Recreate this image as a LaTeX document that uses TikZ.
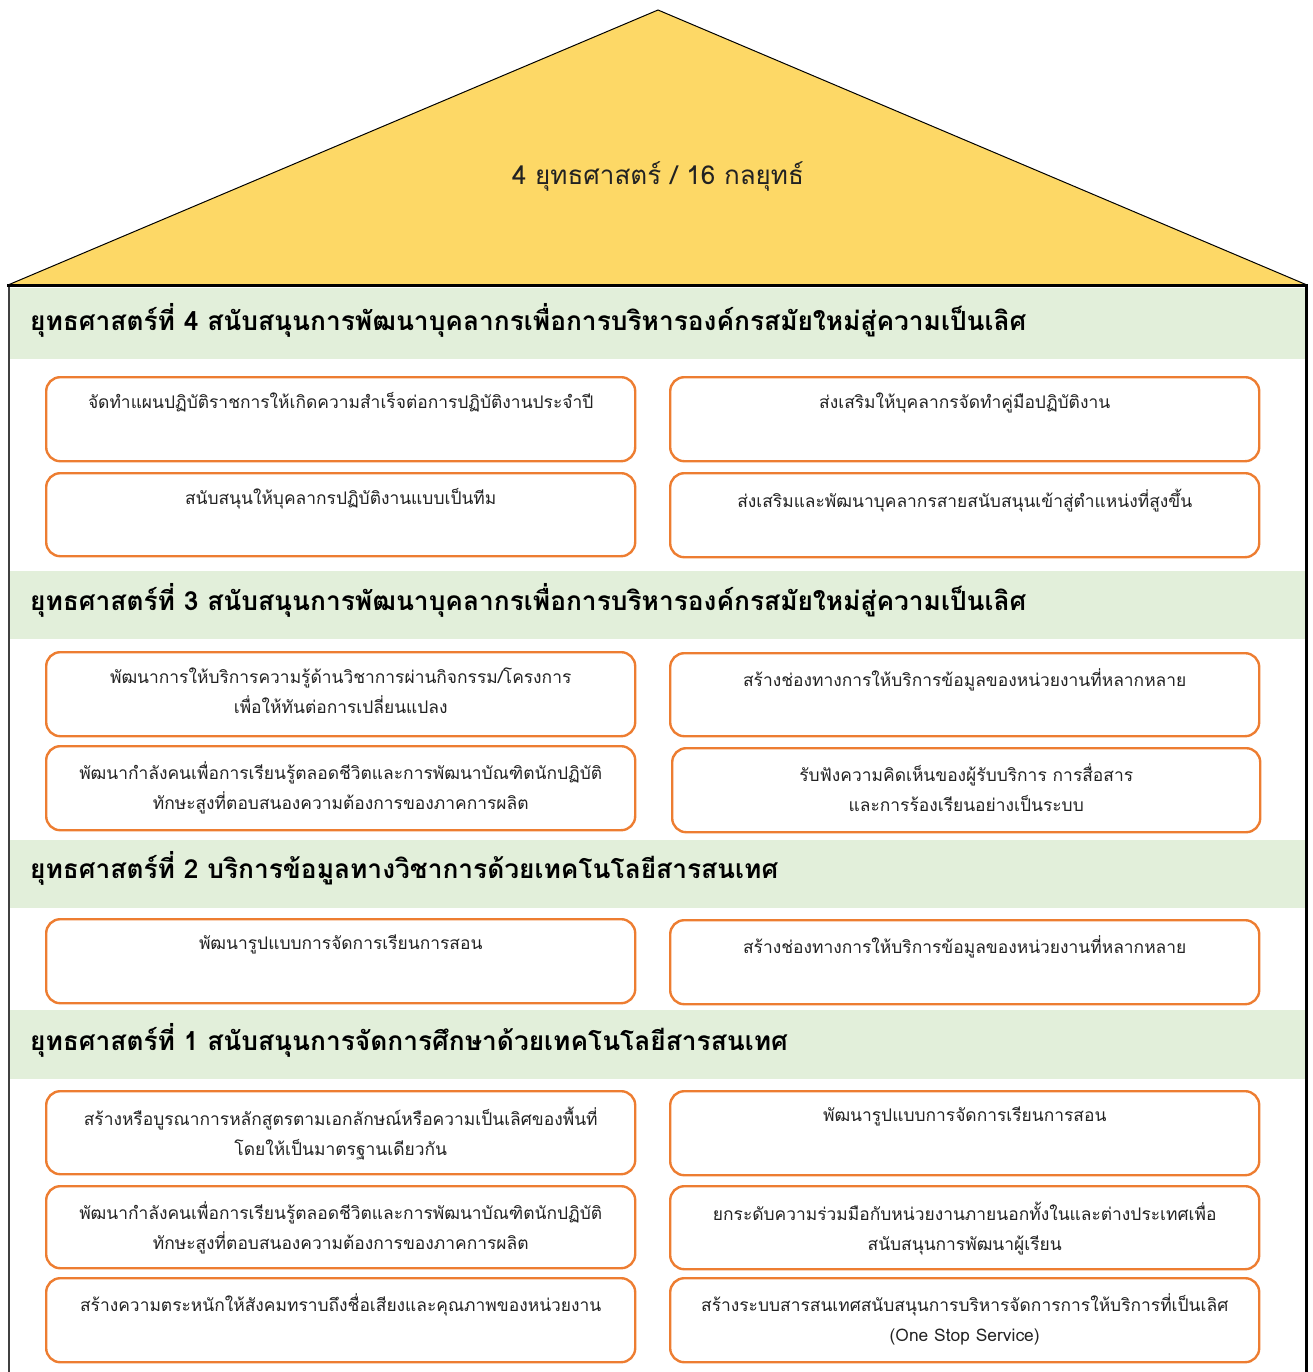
\documentclass[tikz,border=0pt]{standalone}
\usepackage{fontspec}
\newfontfamily\thaifont[Script=Thai]{Loma}
\definecolor{roofyellow}{HTML}{FDD866}
\definecolor{bandgreen}{HTML}{E2EFDA}
\definecolor{boxorange}{HTML}{ED7D31}
\definecolor{txt}{HTML}{222222}
\tikzset{
  obox/.style={draw=boxorange, line width=2.4pt, rounded corners=14pt, inner sep=0pt, anchor=north west},
  otext/.style={font=\thaifont\fontsize{17.4}{30}\selectfont, text=txt, align=center, anchor=north, inner sep=0pt},
  headtext/.style={font=\thaifont\bfseries\fontsize{26.3}{30}\selectfont, text=black, anchor=west, inner sep=0pt},
  rooftext/.style={font=\thaifont\fontsize{26}{30}\selectfont, text=txt, inner sep=0pt}
}
\newcommand\strbox[6]{%
  \node[obox, minimum width=#4-#2, minimum height=#5-#3] (#1) at (#2,#3) {};
  \node[otext] (#1t) at ([yshift=-16.5pt]#1.north) {#6};
}
\begin{document}
\begin{tikzpicture}[x=1pt,y=-1pt]
\useasboundingbox (0,0) rectangle (1312,1372);
% roof
\fill[roofyellow] (8,285) -- (658,10) -- (1307,285) -- cycle;
\draw[line width=1pt] (8,285) -- (658,10) -- (1307,285);
\node[rooftext] (roof) at (658,176) {4 ยุทธศาสตร์ / 16 กลยุทธ์};
% bands
\fill[bandgreen] (10,288) rectangle (1305,359);
\fill[bandgreen] (10,571) rectangle (1305,639);
\fill[bandgreen] (10,840) rectangle (1305,908);
\fill[bandgreen] (10,1010) rectangle (1305,1079);
% walls
\draw[line width=1.2pt, black!75] (9,285) -- (9,1372);
\draw[line width=3pt] (1306,285) -- (1306,1372);
\draw[line width=3pt] (7,285) -- (1308,285);
% headers
\node[headtext] (h4) at (30,320) {ยุทธศาสตร์ที่ 4 สนับสนุนการพัฒนาบุคลากรเพื่อการบริหารองค์กรสมัยใหม่สู่ความเป็นเลิศ};
\node[headtext] (h3) at (30,600) {ยุทธศาสตร์ที่ 3 สนับสนุนการพัฒนาบุคลากรเพื่อการบริหารองค์กรสมัยใหม่สู่ความเป็นเลิศ};
\node[headtext] (h2) at (30,868) {ยุทธศาสตร์ที่ 2 บริการข้อมูลทางวิชาการด้วยเทคโนโลยีสารสนเทศ};
\node[headtext] (h1) at (30,1040) {ยุทธศาสตร์ที่ 1 สนับสนุนการจัดการศึกษาด้วยเทคโนโลยีสารสนเทศ};
% strategy 4
\strbox{a1}{45}{376}{634}{460}{จัดทำแผนปฏิบัติราชการให้เกิดความสำเร็จต่อการปฏิบัติงานประจำปี}
\strbox{a2}{669}{376}{1258}{460}{ส่งเสริมให้บุคลากรจัดทำคู่มือปฏิบัติงาน}
\strbox{a3}{45}{472}{634}{555}{สนับสนุนให้บุคลากรปฏิบัติงานแบบเป็นทีม}
\strbox{a4}{669}{472}{1258}{556}{ส่งเสริมและพัฒนาบุคลากรสายสนับสนุนเข้าสู่ตำแหน่งที่สูงขึ้น}
% strategy 3
\strbox{b1}{45}{651}{634}{735}{พัฒนาการให้บริการความรู้ด้านวิชาการผ่านกิจกรรม/โครงการ\\เพื่อให้ทันต่อการเปลี่ยนแปลง}
\strbox{b2}{669}{652}{1258}{735}{สร้างช่องทางการให้บริการข้อมูลของหน่วยงานที่หลากหลาย}
\strbox{b3}{45}{745}{634}{829}{พัฒนากำลังคนเพื่อการเรียนรู้ตลอดชีวิตและการพัฒนาบัณฑิตนักปฏิบัติ\\ทักษะสูงที่ตอบสนองความต้องการของภาคการผลิต}
\strbox{b4}{671}{747}{1259}{831}{รับฟังความคิดเห็นของผู้รับบริการ การสื่อสาร\\และการร้องเรียนอย่างเป็นระบบ}
% strategy 2
\strbox{c1}{45}{918}{634}{1002}{พัฒนารูปแบบการจัดการเรียนการสอน}
\strbox{c2}{669}{919}{1258}{1003}{สร้างช่องทางการให้บริการข้อมูลของหน่วยงานที่หลากหลาย}
% strategy 1
\strbox{d1}{45}{1090}{634}{1173}{สร้างหรือบูรณาการหลักสูตรตามเอกลักษณ์หรือความเป็นเลิศของพื้นที่\\โดยให้เป็นมาตรฐานเดียวกัน}
\strbox{d2}{669}{1090}{1258}{1174}{พัฒนารูปแบบการจัดการเรียนการสอน}
\strbox{d3}{45}{1185}{634}{1267}{พัฒนากำลังคนเพื่อการเรียนรู้ตลอดชีวิตและการพัฒนาบัณฑิตนักปฏิบัติ\\ทักษะสูงที่ตอบสนองความต้องการของภาคการผลิต}
\strbox{d4}{669}{1185}{1258}{1268}{ยกระดับความร่วมมือกับหน่วยงานภายนอกทั้งในและต่างประเทศเพื่อ\\สนับสนุนการพัฒนาผู้เรียน}
\strbox{d5}{45}{1277}{634}{1361}{สร้างความตระหนักให้สังคมทราบถึงชื่อเสียงและคุณภาพของหน่วยงาน}
\strbox{d6}{669}{1277}{1258}{1361}{สร้างระบบสารสนเทศสนับสนุนการบริหารจัดการการให้บริการที่เป็นเลิศ\\(One Stop Service)}
\end{tikzpicture}
\end{document}
